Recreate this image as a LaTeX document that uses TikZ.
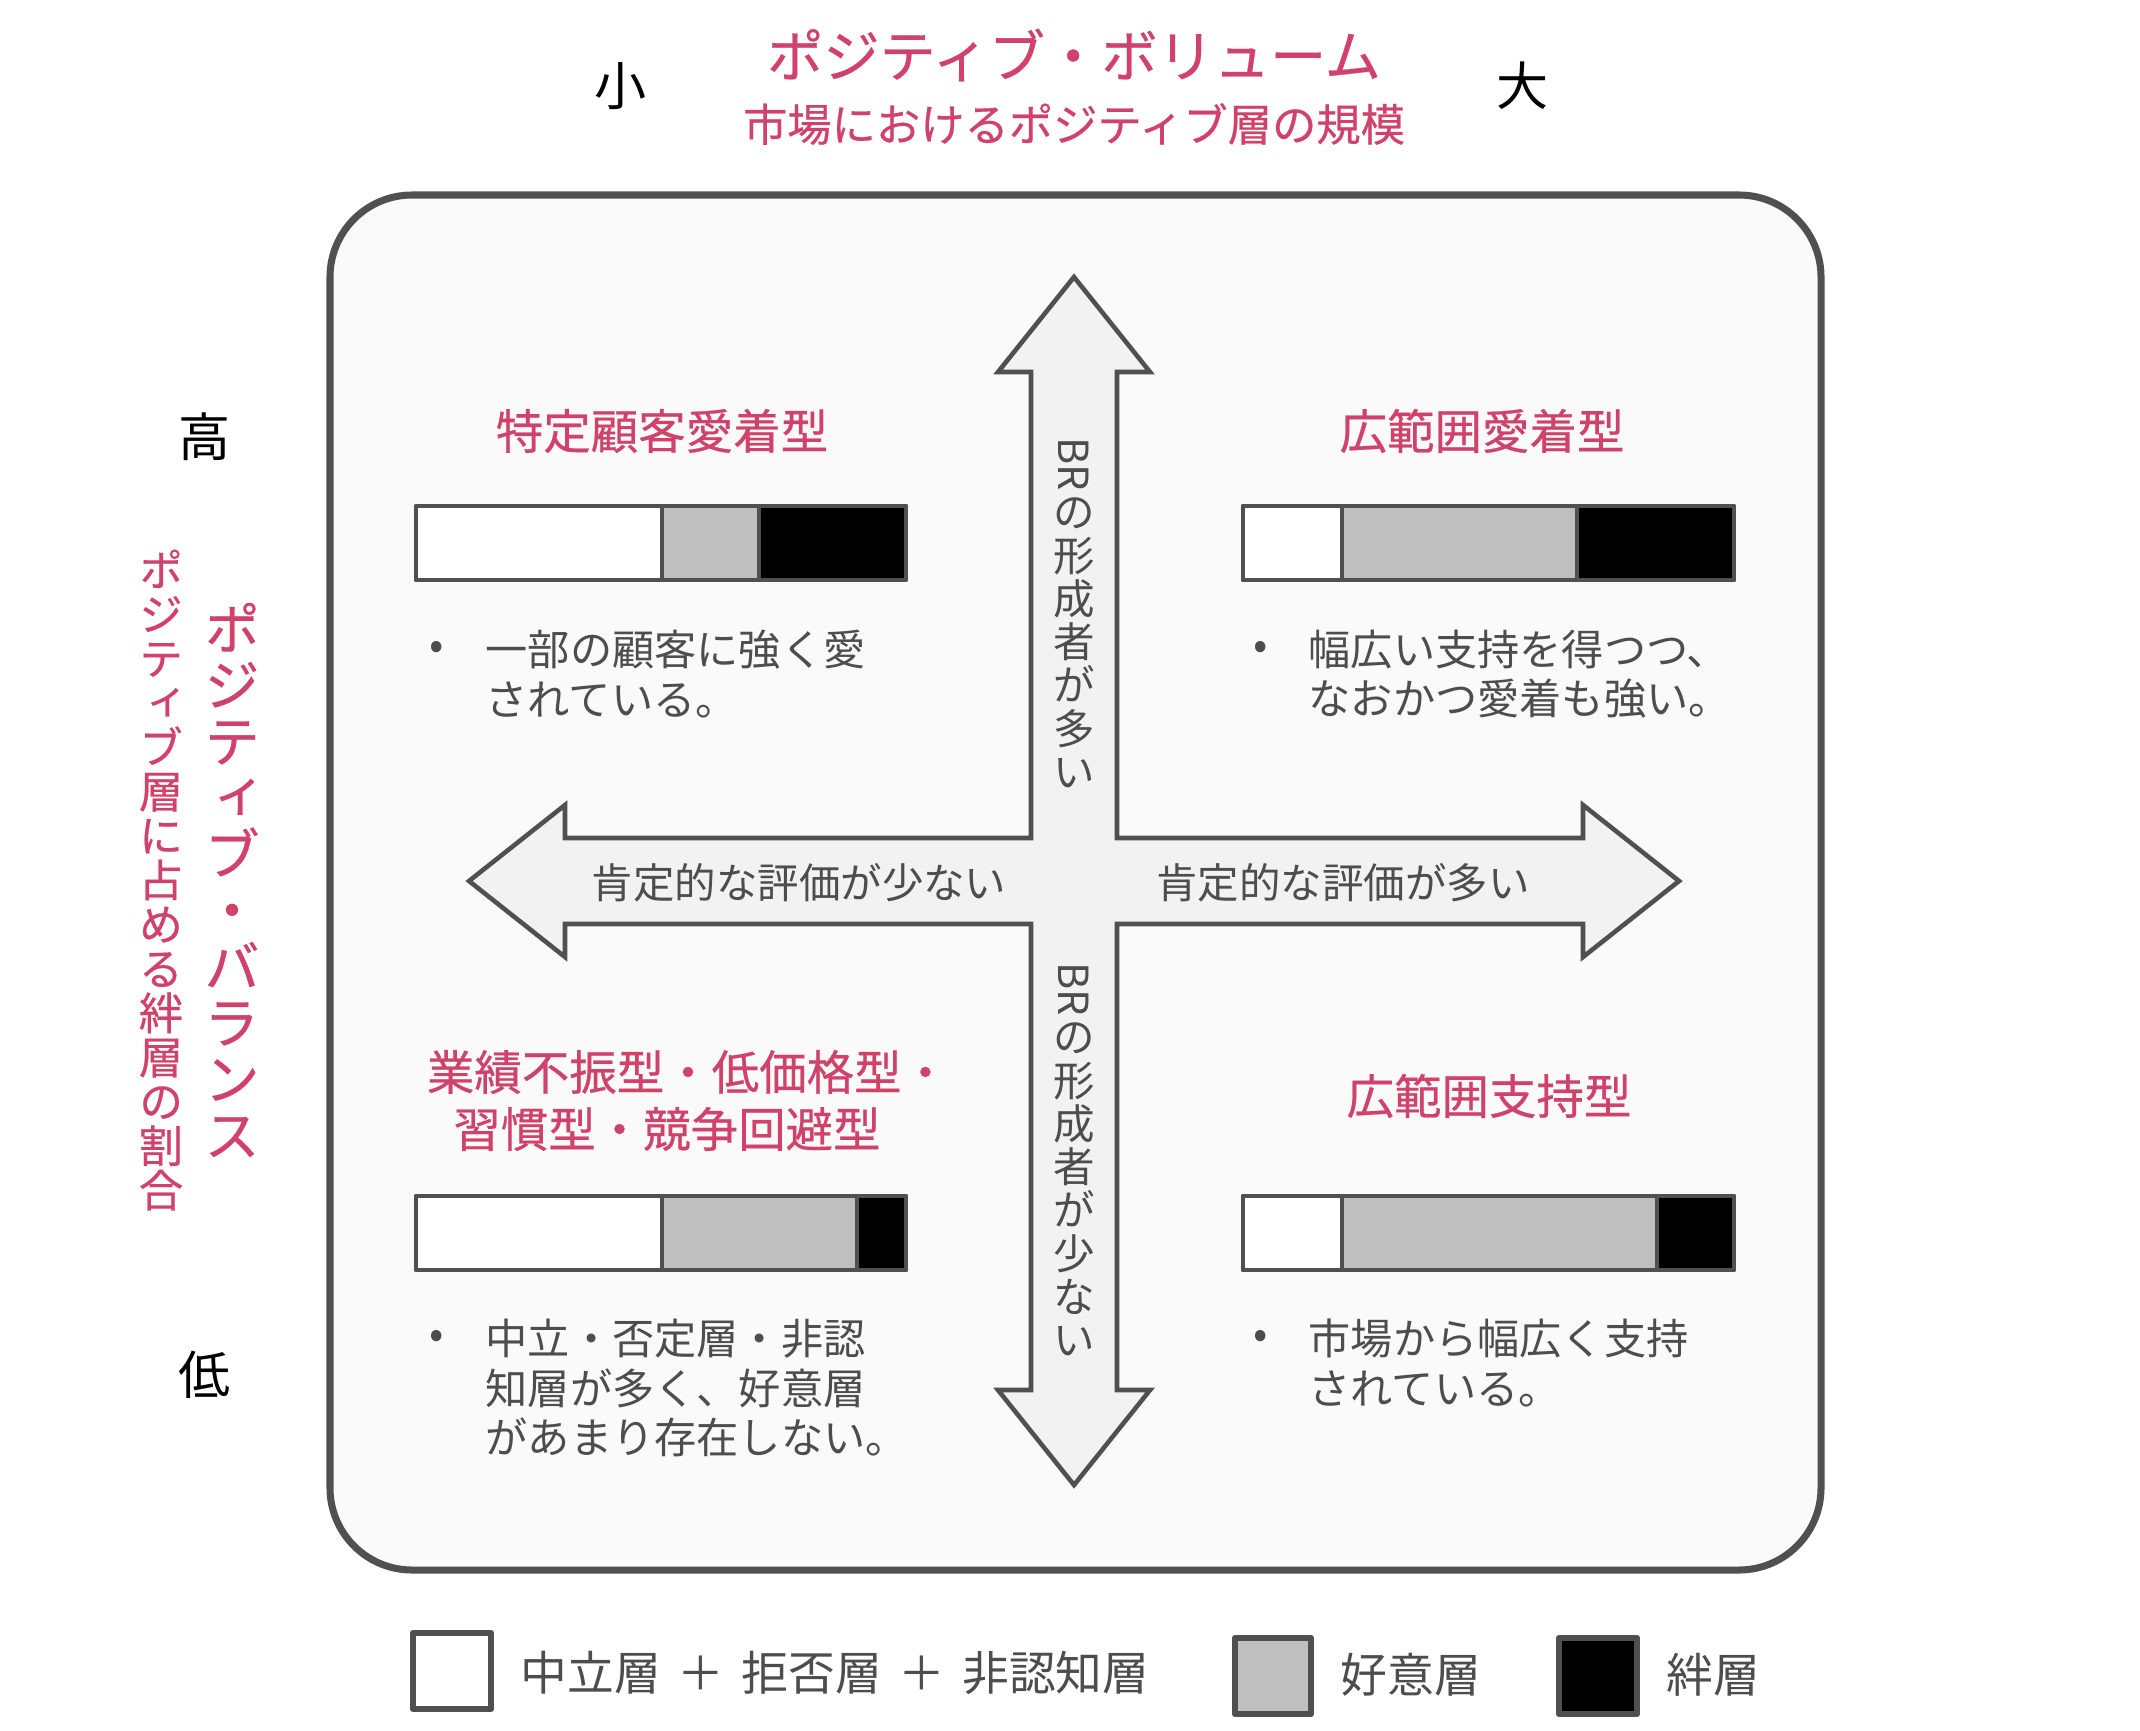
\documentclass[tikz,border=0pt]{standalone}
\usepackage{fontspec}
\setmainfont{Noto Sans CJK JP}
\newfontfamily\tatefont[RawFeature=+vert, FakeBold=0.5]{Noto Sans CJK JP}
\newfontfamily\headfont[FakeBold=0.5]{Noto Sans CJK JP}
\usetikzlibrary{positioning}

\definecolor{accentpink}{HTML}{D0426A}
\definecolor{linegray}{HTML}{505050}
\definecolor{textgray}{HTML}{4D4D4D}
\definecolor{boxfill}{HTML}{FAFAFA}
\definecolor{arrowfill}{HTML}{F2F2F2}
\definecolor{likegray}{HTML}{BFBFBF}

\tikzset{
  quadtitle/.style={text=accentpink, font=\headfont\fontsize{13.5}{16}\selectfont, inner sep=0},
  bodytext/.style={text=textgray, font=\fontsize{12}{14}\selectfont, align=left, anchor=west, inner sep=0},
  bulletmark/.style={text=textgray, font=\fontsize{12}{14}\selectfont, inner sep=0},
  barline/.style={draw=linegray, line width=1.4pt, line join=round},
  axislabel/.style={text=black, font=\fontsize{14.8}{16}\selectfont, inner sep=0},
  arrowtext/.style={text=textgray, font=\fontsize{11.8}{12.3}\selectfont, inner sep=0},
  legendbox/.style={draw=linegray, line width=1.8pt, line join=round},
  legendtext/.style={text=textgray, font=\fontsize{13.3}{16}\selectfont, anchor=west, inner sep=0},
}

\begin{document}
\begin{tikzpicture}[x=0.01cm, y=-0.01cm]
		\useasboundingbox (0, 0) rectangle (2140, 1730);
		
		%%%%% axis titles %%%%%
		\node[text=accentpink, font=\headfont\fontsize{16}{18}\selectfont, inner sep=0] (volTitle) at (1074, 55) {ポジティブ・ボリューム};
		\node[text=accentpink, font=\headfont\fontsize{12.6}{15}\selectfont, inner sep=0] (volSub) at (1074, 124) {市場におけるポジティブ層の規模};
		\node[axislabel] (small) at (621, 86) {小};
		\node[axislabel] (large) at (1522, 86) {大};
		
		\node[text=accentpink, font=\tatefont\fontsize{16}{16}\selectfont, align=center, inner sep=0] (balTitle) at (232, 880) {ポ\\ジ\\テ\\ィ\\ブ\\・\\バ\\ラ\\ン\\ス};
		\node[text=accentpink, font=\tatefont\fontsize{12.6}{12.6}\selectfont, align=center, inner sep=0] (balSub) at (161, 880) {ポ\\ジ\\テ\\ィ\\ブ\\層\\に\\占\\め\\る\\絆\\層\\の\\割\\合};
		\node[axislabel] (high) at (205, 437) {高};
		\node[axislabel] (low) at (205, 1375) {低};
		
		%%%%% frame %%%%%
		\draw[draw=linegray, fill=boxfill, line width=2pt, rounded corners=0.82cm] (330, 195) rectangle (1821, 1570);
		
		%%%%% cross arrow %%%%%
		\draw[draw=linegray, fill=arrowfill, line width=1.3pt, line join=miter]
			(1074, 277) -- (1150, 372) -- (1117, 372) -- (1117, 838) -- (1583, 838) -- (1583, 805)
			-- (1679, 881) -- (1583, 957) -- (1583, 924) -- (1117, 924) -- (1117, 1390) -- (1150, 1390)
			-- (1074, 1485) -- (998, 1390) -- (1031, 1390) -- (1031, 924) -- (565, 924) -- (565, 957)
			-- (469, 881) -- (565, 805) -- (565, 838) -- (1031, 838) -- (1031, 372) -- (998, 372) -- cycle;
		
		\node[arrowtext, rotate=-90, anchor=west] (brUp) at (1074, 437) {BR};
		\node[arrowtext, align=center, anchor=north] (tateUp) at ([yshift=-1.5pt]brUp.east) {の\\形\\成\\者\\が\\多\\い};
		\node[arrowtext, rotate=-90, anchor=west] (brDown) at (1074, 962) {BR};
		\node[arrowtext, align=center, anchor=north] (tateDown) at ([yshift=-1.5pt]brDown.east) {の\\形\\成\\者\\が\\少\\な\\い};
		
		\node[arrowtext] (evalFew) at (799, 883) {肯定的な評価が少ない};
		\node[arrowtext] (evalMany) at (1343, 883) {肯定的な評価が多い};
		
		%%%%% top left %%%%%
		\node[quadtitle] (tlTitle) at (662, 431) {特定顧客愛着型};
		\draw[barline, fill=white] (416, 506) rectangle (662, 580);
		\draw[barline, fill=likegray] (662, 506) rectangle (759, 580);
		\draw[barline, fill=black] (759, 506) rectangle (906, 580);
		\node[bulletmark] (tlDot) at (437, 650) {•};
		\node[bodytext] (tlText) at (485, 674) {一部の顧客に強く愛\\されている。};
		
		%%%%% top right %%%%%
		\node[quadtitle] (trTitle) at (1482, 431) {広範囲愛着型};
		\draw[barline, fill=white] (1243, 506) rectangle (1342, 580);
		\draw[barline, fill=likegray] (1342, 506) rectangle (1577, 580);
		\draw[barline, fill=black] (1577, 506) rectangle (1734, 580);
		\node[bulletmark] (trDot) at (1261, 650) {•};
		\node[bodytext] (trText) at (1308, 674) {幅広い支持を得つつ、\\なおかつ愛着も強い。};
		
		%%%%% bottom left %%%%%
		\node[quadtitle] (blTitleA) at (688, 1072) {業績不振型・低価格型・};
		\node[quadtitle] (blTitleB) at (667, 1129) {習慣型・競争回避型};
		\draw[barline, fill=white] (416, 1196) rectangle (662, 1270);
		\draw[barline, fill=likegray] (662, 1196) rectangle (857, 1270);
		\draw[barline, fill=black] (857, 1196) rectangle (906, 1270);
		\node[bulletmark] (blDot) at (437, 1339) {•};
		\node[bodytext] (blText) at (485, 1388) {中立・否定層・非認\\知層が多く、好意層\\があまり存在しない。};
		
		%%%%% bottom right %%%%%
		\node[quadtitle] (brTitle) at (1489, 1096) {広範囲支持型};
		\draw[barline, fill=white] (1243, 1196) rectangle (1342, 1270);
		\draw[barline, fill=likegray] (1342, 1196) rectangle (1657, 1270);
		\draw[barline, fill=black] (1657, 1196) rectangle (1734, 1270);
		\node[bulletmark] (brDot) at (1261, 1339) {•};
		\node[bodytext] (brText) at (1308, 1363) {市場から幅広く支持\\されている。};
		
		%%%%% legend %%%%%
		\draw[legendbox, fill=white] (413, 1633) rectangle (491, 1709);
		\node[legendtext] (keyNeutral) at (520, 1673) {中立層\hspace{0.36em}＋\hspace{0.36em}拒否層\hspace{0.36em}＋\hspace{0.36em}非認知層};
		\draw[legendbox, fill=likegray] (1235, 1638) rectangle (1311, 1714);
		\node[legendtext] (keyLike) at (1340, 1675) {好意層};
		\draw[legendbox, fill=black] (1559, 1638) rectangle (1637, 1714);
		\node[legendtext] (keyBond) at (1666, 1675) {絆層};
\end{tikzpicture}
\end{document}
